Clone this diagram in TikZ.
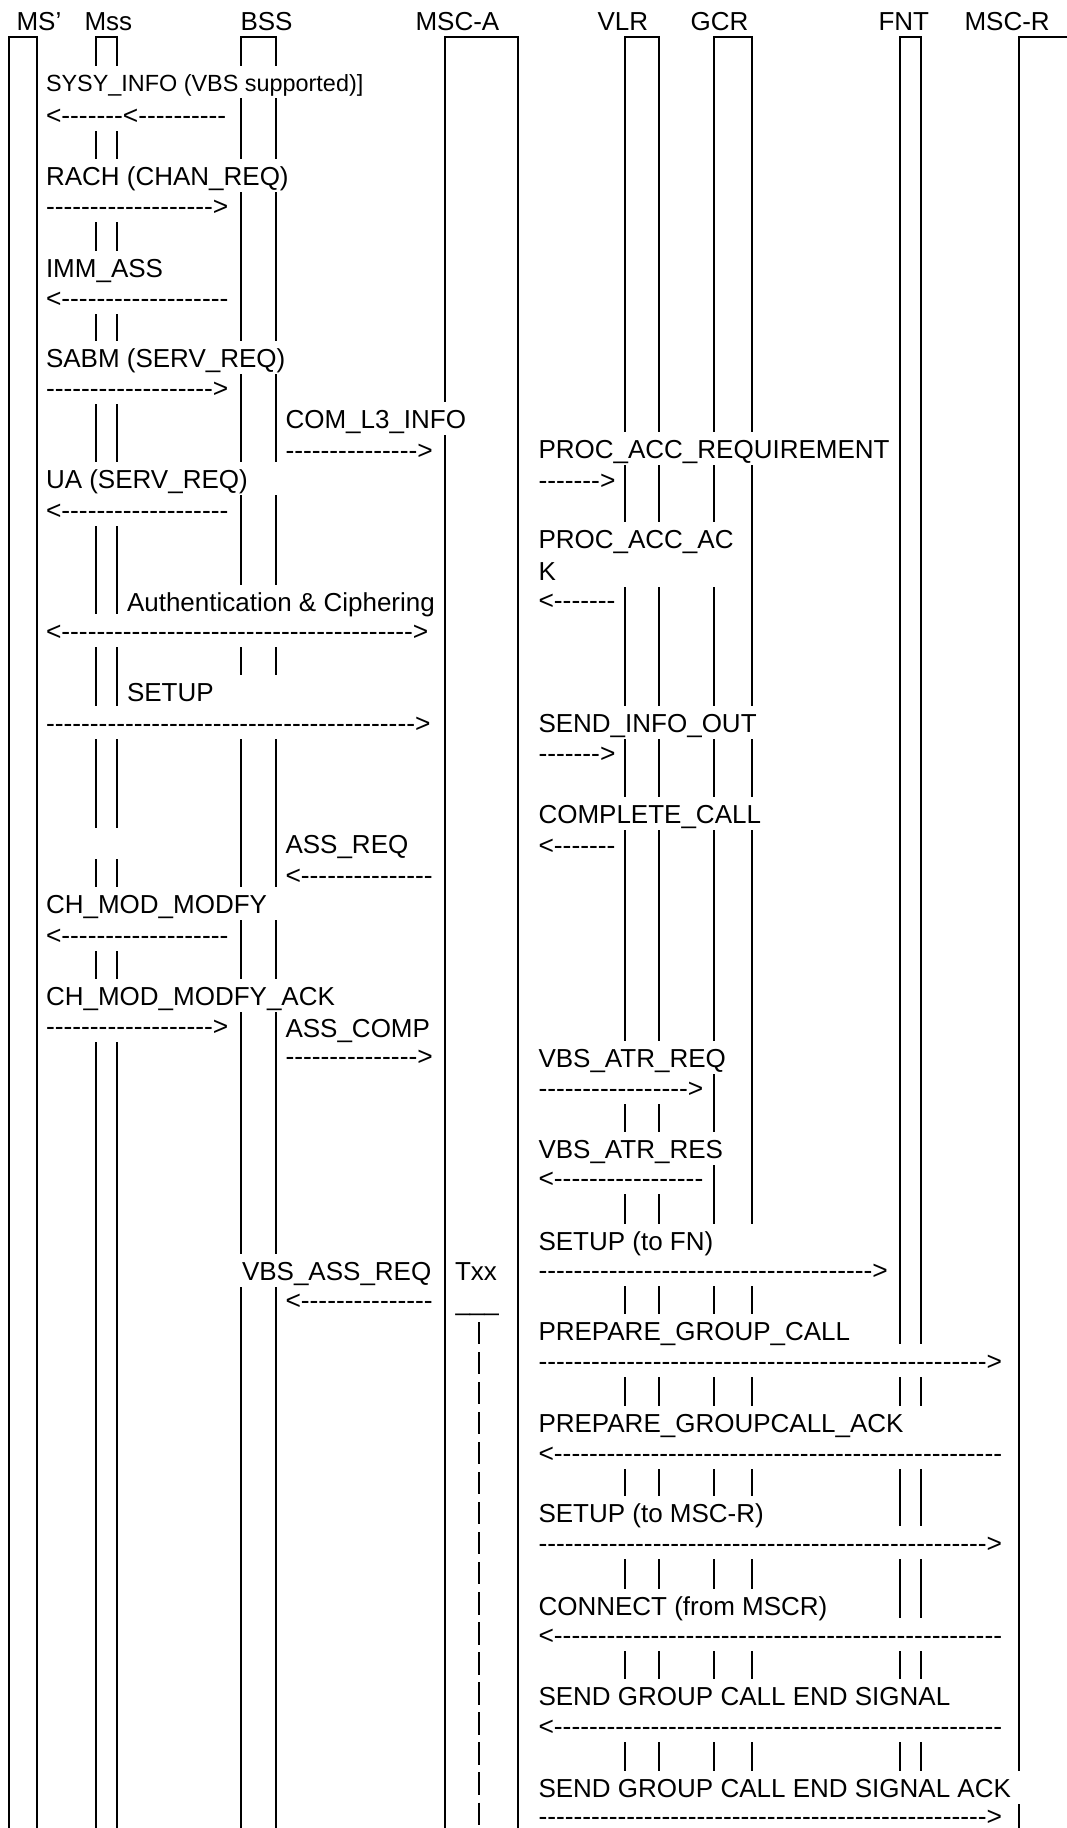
\documentclass[tikz,border=0pt]{standalone}
\usepackage{fontspec}
\setmainfont{Liberation Sans}[Ligatures=TeXOff]
\ExplSyntaxOn
\NewDocumentCommand\dashrep{m}{\prg_replicate:nn{#1}{-}}
\ExplSyntaxOff
\pgfdeclarelayer{lines}
\pgfdeclarelayer{boxes}
\pgfsetlayers{lines,boxes,main}
\begin{document}
\begin{tikzpicture}[x=0.38462pt,y=-0.38462pt,
  font=\fontsize{10}{12}\selectfont,
  life/.style={line width=0.8pt},
  timer/.style={line width=0.8pt,dash pattern=on 8.55pt off 3pt},
  hdr/.style={anchor=base west,inner sep=0pt},
  msg/.style={anchor=base west,inner xsep=1.15pt,inner ysep=0pt,text height=9.8pt,text depth=2.4pt},
  arr/.style={msg,font=\fontsize{10.15}{12}\selectfont}]
\useasboundingbox (0,0) rectangle (1066,1828);
\begin{pgfonlayer}{lines}
\draw[life] (9.3,1832) -- (9.3,36.7) -- (36.7,36.7) -- (36.7,1832);
\draw[life] (96,1832) -- (96,36.7) -- (117.3,36.7) -- (117.3,1832);
\draw[life] (241.3,1832) -- (241.3,36.7) -- (276.3,36.7) -- (276.3,1832);
\draw[life] (445.3,1832) -- (445.3,36.7) -- (517.7,36.7) -- (517.7,1832);
\draw[life] (625,1832) -- (625,36.7) -- (659.3,36.7) -- (659.3,1832);
\draw[life] (714.3,1832) -- (714.3,36.7) -- (751.7,36.7) -- (751.7,1832);
\draw[life] (899.7,1832) -- (899.7,36.7) -- (921.3,36.7) -- (921.3,1832);
\draw[life] (1019.3,1832) -- (1019.3,36.7) -- (1070,36.7);
\draw[timer] (479,1322) -- (479,1832);
\end{pgfonlayer}
% headers
\node[hdr] (hms) at (16,30) {MS’};
\node[hdr] (hmss) at (84,30) {Mss};
\node[hdr] (hbss) at (240,30) {BSS};
\node[hdr] (hmsca) at (415,30) {MSC-A};
\node[hdr] (hvlr) at (597,30) {VLR};
\node[hdr] (hgcr) at (690,30) {GCR};
\node[hdr] (hfnt) at (878,30) {FNT};
\node[hdr] (hmscr) at (964,30) {MSC-R};
% left column
\node[msg,font=\fontsize{9}{11}\selectfont] (sysy) at (42.5,91.5) {SYSY\_INFO (VBS supported)]};
\node[arr] (sysya) at (42.5,124) {<\dashrep{7}<\dashrep{10}};
\node[msg] (rach) at (42.5,185) {RACH (CHAN\_REQ)};
\node[arr] (racha) at (42.5,215) {\dashrep{19}>};
\node[msg] (imm) at (42.5,277) {IMM\_ASS};
\node[arr] (imma) at (42.5,307) {<\dashrep{19}};
\node[msg] (sabm) at (42.5,367) {SABM (SERV\_REQ)};
\node[arr] (sabma) at (42.5,397) {\dashrep{19}>};
\node[msg] (ua) at (42.5,488) {UA (SERV\_REQ)\hspace*{12pt}};
\node[arr] (uaa) at (42.5,519) {<\dashrep{19}};
\node[msg] (auth) at (123.5,611) {Authentication \& Ciphering};
\node[arr] (autha) at (42.5,640) {<\dashrep{40}>};
\node[msg] (setup) at (123.5,701) {SETUP\hspace*{27pt}};
\node[arr] (setupa) at (42.5,732) {\dashrep{42}>};
\node[msg] (chmod) at (42.5,913) {CH\_MOD\_MODFY\hspace*{6pt}};
\node[arr] (chmoda) at (42.5,944) {<\dashrep{19}};
\node[msg] (chack) at (42.5,1005) {CH\_MOD\_MODFY\_ACK};
\node[arr] (chacka) at (42.5,1035) {\dashrep{19}>};
% middle column
\node[msg] (coml) at (282,428) {COM\_L3\_INFO};
\node[arr] (comla) at (282,459) {\dashrep{15}>};
\node[msg] (assreq) at (282,853) {ASS\_REQ};
\node[arr] (assreqa) at (282,884) {<\dashrep{15}};
\node[msg] (asscomp) at (282,1037) {ASS\_COMP};
\node[arr] (asscompa) at (282,1065) {\dashrep{15}>};
\node[msg] (vbsass) at (238.5,1280) {VBS\_ASS\_REQ};
\node[arr] (vbsassa) at (282,1309) {<\dashrep{15}};
\node[hdr] (txx) at (454.5,1280) {Txx};
\node[hdr] (txxu) at (455,1310) {\_\_\_};
% right column
\node[msg] (pacr) at (535,458) {PROC\_ACC\_REQUIREMENT};
\node[arr] (pacra) at (535,489) {\dashrep{7}>};
\node[msg] (paca) at (535,548) {PROC\_ACC\_AC};
\node[msg] (pacb) at (535,580) {K\hspace*{63pt}};
\node[arr] (pacaa) at (535,609) {<\dashrep{7}};
\node[msg] (sio) at (535,732) {SEND\_INFO\_OUT};
\node[arr] (sioa) at (535,762) {\dashrep{7}>};
\node[msg] (cc) at (535,823) {COMPLETE\_CALL};
\node[arr] (cca) at (535,854) {<\dashrep{7}};
\node[msg] (atrq) at (535,1067) {VBS\_ATR\_REQ};
\node[arr] (atrqa) at (535,1097) {\dashrep{17}>};
\node[msg] (atrs) at (535,1158) {VBS\_ATR\_RES};
\node[arr] (atrsa) at (535,1187) {<\dashrep{17}};
\node[msg] (sfn) at (535,1250) {SETUP (to FN)\hspace*{16pt}};
\node[arr] (sfna) at (535,1279) {\dashrep{38}>};
\node[msg] (pgc) at (535,1340) {PREPARE\_GROUP\_CALL};
\node[arr] (pgca) at (535,1370) {\dashrep{51}>};
\node[msg] (pgk) at (535,1432) {PREPARE\_GROUPCALL\_ACK\hspace*{7pt}};
\node[arr] (pgka) at (535,1462) {<\dashrep{51}};
\node[msg] (smr) at (535,1522) {SETUP (to MSC-R)};
\node[arr] (smra) at (535,1552) {\dashrep{51}>};
\node[msg] (conn) at (535,1615) {CONNECT (from MSCR)};
\node[arr] (conna) at (535,1644) {<\dashrep{51}};
\node[msg] (sgc) at (535,1705) {SEND GROUP CALL END SIGNAL};
\node[arr] (sgca) at (535,1735) {<\dashrep{51}};
\node[msg] (sgk) at (535,1797) {SEND GROUP CALL END SIGNAL ACK\hspace*{3pt}};
\node[arr] (sgka) at (535,1825) {\dashrep{51}>};
% white text backgrounds that break the lifelines
\begin{pgfonlayer}{boxes}
\fill[white] (42,828) rectangle (232,859);
\foreach \n in {sysy,sysya,rach,racha,imm,imma,sabm,sabma,ua,uaa,auth,autha,setup,setupa,chmod,chmoda,chack,chacka,coml,comla,assreq,assreqa,asscomp,asscompa,vbsass,vbsassa,pacr,pacra,paca,pacb,pacaa,sio,sioa,cc,cca,atrq,atrqa,atrs,atrsa,sfn,sfna,pgc,pgca,pgk,pgka,smr,smra,conn,conna,sgc,sgca,sgk,sgka}
  \fill[white] (\n.south west) rectangle (\n.north east);
\end{pgfonlayer}
\end{tikzpicture}
\end{document}
